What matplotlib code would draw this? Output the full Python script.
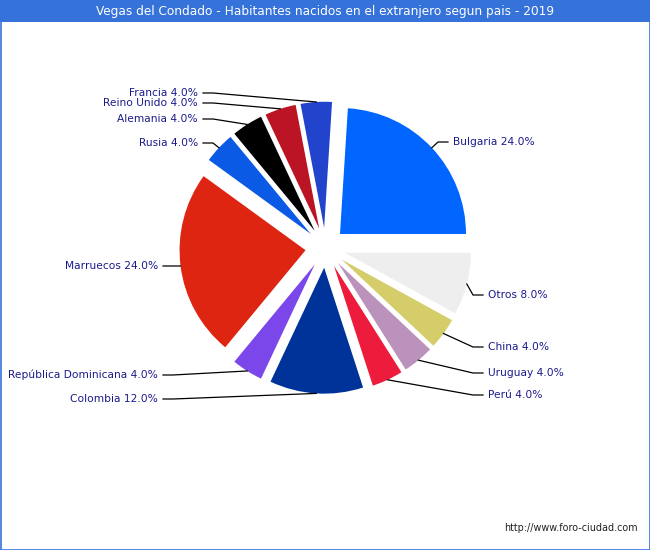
import numpy as np
import matplotlib.pyplot as plt
from matplotlib.patches import Rectangle

# data, in drawing order (counterclockwise from 3 o'clock)
countries = ['Bulgaria', 'Francia', 'Reino Unido', 'Alemania', 'Rusia', 'Marruecos',
             'República Dominicana', 'Colombia', 'Perú', 'Uruguay', 'China', 'Otros']
shares = [24.0, 4.0, 4.0, 4.0, 4.0, 24.0, 4.0, 12.0, 4.0, 4.0, 4.0, 8.0]
colors = ['#0066ff', '#2244cc', '#bb1525', '#000000', '#0a5ae6', '#dd2511',
          '#7b47ea', '#003399', '#ee1c3c', '#bb92bb', '#d4cd6a', '#eeeeee']

# label text rows (pixels from top)
label_y = [142, 93, 103, 119, 143, 266, 375, 399, 395, 373, 347, 295]

W, H = 650, 550
fig = plt.figure(figsize=(6.5, 5.5), dpi=100)
ax = fig.add_axes([0, 0, 1, 1])

R = 126
wedges, _ = ax.pie(shares, colors=colors, startangle=0, counterclock=True,
                   radius=R, center=(325.4, H - 247.7), explode=[20] * len(shares),
                   wedgeprops=dict(linewidth=0), frame=True)
ax.set_xlim(0, W)
ax.set_ylim(0, H)
ax.set_aspect('equal')
ax.axis('off')

txt_col = '#1a1a8a'
fs = 7.7
for w, name, val, ly in zip(wedges, countries, shares, label_y):
    tm = np.radians((w.theta1 + w.theta2) / 2)
    cx, cy = w.center
    px, py = cx + R * np.cos(tm), cy + R * np.sin(tm)
    ty = H - ly
    if np.cos(tm) > 0.2:
        elbow = 438 if ly < 200 else 473
        ax.plot([px, elbow, elbow + 10], [py, ty, ty], color='black', lw=0.9)
        ax.text(elbow + 15, ty, f'{name} {val:.1f}%', ha='left', va='center',
                fontsize=fs, color=txt_col)
    else:
        end = 203 if ly < 200 else 163
        ax.plot([px, end + 10, end], [py, ty, ty], color='black', lw=0.9)
        ax.text(end - 5, ty, f'{name} {val:.1f}%', ha='right', va='center',
                fontsize=fs, color=txt_col)

# title bar and frame
fig.patches.append(Rectangle((0, 1 - 22 / H), 1, 22 / H, transform=fig.transFigure,
                             facecolor='#3572d9', edgecolor='none'))
fig.patches.append(Rectangle((0.5 / W, 0.5 / H), 1 - 1 / W, 1 - 1 / H, transform=fig.transFigure,
                             facecolor='none', edgecolor='#3572d9', lw=1.2))
fig.text(0.5, 1 - 11 / H, 'Vegas del Condado - Habitantes nacidos en el extranjero segun pais - 2019',
         ha='center', va='center', color='white', fontsize=8.7)
fig.text(638 / W, 1 - 528 / H, 'http://www.foro-ciudad.com', ha='right', va='center',
         fontsize=6.9, color='#222222')

fig.savefig('out.png', dpi=100)
